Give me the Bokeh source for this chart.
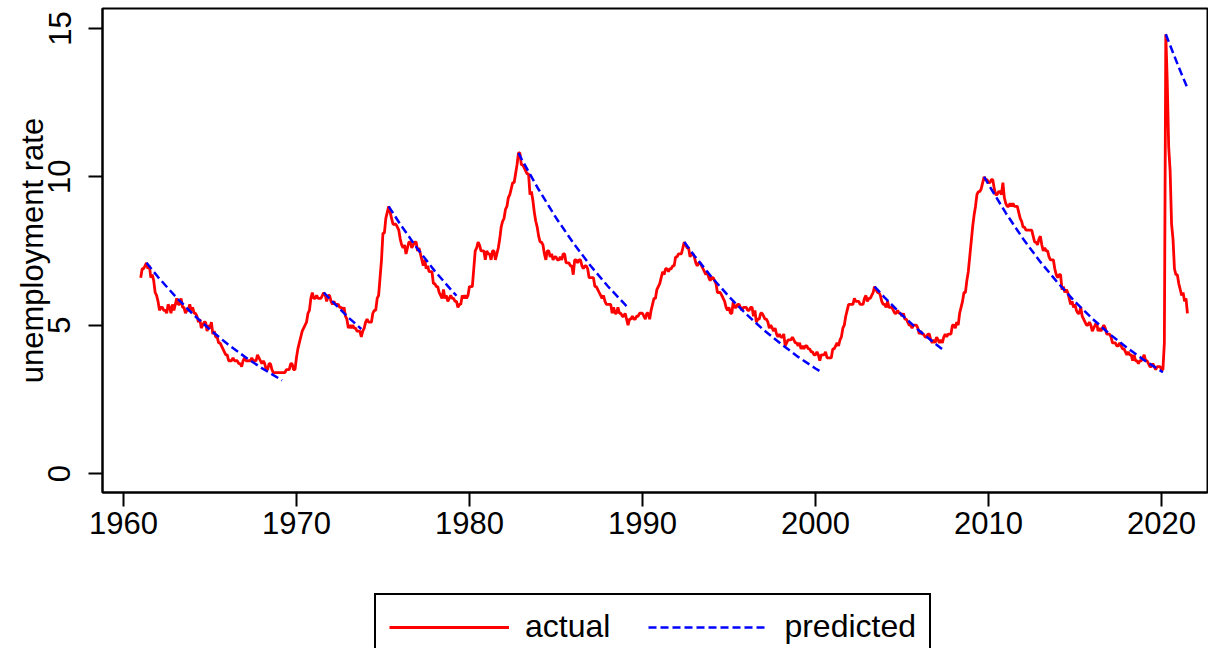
from bokeh.plotting import figure
from bokeh.layouts import column
from bokeh.models import Range1d, FixedTicker, Legend, LegendItem
from bokeh.embed import file_html
from bokeh.resources import INLINE

# ---------------- data ----------------
start_year = 1961  # monthly series starts January 1961
unrate = [
    6.6, 6.9, 6.9, 7.0, 7.1, 6.9, 7.0, 6.6, 6.7, 6.5, 6.1, 6.0,   # 1961
    5.8, 5.5, 5.6, 5.6, 5.5, 5.5, 5.4, 5.7, 5.6, 5.4, 5.7, 5.5,   # 1962
    5.7, 5.9, 5.7, 5.7, 5.9, 5.6, 5.6, 5.4, 5.5, 5.5, 5.7, 5.5,   # 1963
    5.6, 5.4, 5.4, 5.3, 5.1, 5.2, 4.9, 5.0, 5.1, 5.1, 4.8, 5.0,   # 1964
    4.9, 5.1, 4.7, 4.8, 4.6, 4.6, 4.4, 4.4, 4.3, 4.2, 4.1, 4.0,   # 1965
    4.0, 3.8, 3.8, 3.8, 3.9, 3.8, 3.8, 3.8, 3.7, 3.7, 3.6, 3.8,   # 1966
    3.9, 3.8, 3.8, 3.8, 3.8, 3.9, 3.8, 3.8, 3.8, 4.0, 3.9, 3.8,   # 1967
    3.7, 3.8, 3.7, 3.5, 3.5, 3.7, 3.7, 3.5, 3.4, 3.4, 3.4, 3.4,   # 1968
    3.4, 3.4, 3.4, 3.4, 3.4, 3.5, 3.5, 3.5, 3.7, 3.7, 3.5, 3.5,   # 1969
    3.9, 4.2, 4.4, 4.6, 4.8, 4.9, 5.0, 5.1, 5.4, 5.5, 5.9, 6.1,   # 1970
    5.9, 5.9, 6.0, 5.9, 5.9, 5.9, 6.0, 6.1, 6.0, 5.8, 6.0, 6.0,   # 1971
    5.8, 5.7, 5.8, 5.7, 5.7, 5.7, 5.6, 5.6, 5.5, 5.6, 5.3, 5.2,   # 1972
    4.9, 5.0, 4.9, 5.0, 4.9, 4.9, 4.8, 4.8, 4.8, 4.6, 4.8, 4.9,   # 1973
    5.1, 5.2, 5.1, 5.1, 5.1, 5.4, 5.5, 5.5, 5.9, 6.0, 6.6, 7.2,   # 1974
    8.1, 8.1, 8.6, 8.8, 9.0, 8.8, 8.6, 8.4, 8.4, 8.4, 8.3, 8.2,   # 1975
    7.9, 7.7, 7.6, 7.7, 7.4, 7.6, 7.8, 7.8, 7.6, 7.7, 7.8, 7.8,   # 1976
    7.5, 7.6, 7.4, 7.2, 7.0, 7.2, 6.9, 7.0, 6.8, 6.8, 6.8, 6.4,   # 1977
    6.4, 6.3, 6.3, 6.1, 6.0, 5.9, 6.2, 5.9, 6.0, 5.8, 5.9, 6.0,   # 1978
    5.9, 5.9, 5.8, 5.8, 5.6, 5.7, 5.7, 6.0, 5.9, 6.0, 5.9, 6.0,   # 1979
    6.3, 6.3, 6.3, 6.9, 7.5, 7.6, 7.8, 7.7, 7.5, 7.5, 7.5, 7.2,   # 1980
    7.5, 7.4, 7.4, 7.2, 7.5, 7.5, 7.2, 7.4, 7.6, 7.9, 8.3, 8.5,   # 1981
    8.6, 8.9, 9.0, 9.3, 9.4, 9.6, 9.8, 9.8, 10.1, 10.4, 10.8, 10.8,  # 1982
    10.4, 10.4, 10.3, 10.2, 10.1, 10.1, 9.4, 9.5, 9.2, 8.8, 8.5, 8.3,  # 1983
    8.0, 7.8, 7.8, 7.7, 7.4, 7.2, 7.5, 7.5, 7.3, 7.4, 7.2, 7.3,   # 1984
    7.3, 7.2, 7.2, 7.3, 7.2, 7.4, 7.4, 7.1, 7.1, 7.1, 7.0, 7.0,   # 1985
    6.7, 7.2, 7.2, 7.1, 7.2, 7.2, 7.0, 6.9, 7.0, 7.0, 6.9, 6.6,   # 1986
    6.6, 6.6, 6.6, 6.3, 6.3, 6.2, 6.1, 6.0, 5.9, 6.0, 5.8, 5.7,   # 1987
    5.7, 5.7, 5.7, 5.4, 5.6, 5.4, 5.4, 5.6, 5.4, 5.4, 5.3, 5.3,   # 1988
    5.4, 5.2, 5.0, 5.2, 5.2, 5.3, 5.2, 5.2, 5.3, 5.3, 5.4, 5.4,   # 1989
    5.4, 5.3, 5.2, 5.4, 5.4, 5.2, 5.5, 5.7, 5.9, 5.9, 6.2, 6.3,   # 1990
    6.4, 6.6, 6.8, 6.7, 6.9, 6.9, 6.8, 6.9, 6.9, 7.0, 7.0, 7.3,   # 1991
    7.3, 7.4, 7.4, 7.4, 7.6, 7.8, 7.7, 7.6, 7.6, 7.3, 7.4, 7.4,   # 1992
    7.3, 7.1, 7.0, 7.1, 7.1, 7.0, 6.9, 6.8, 6.7, 6.8, 6.6, 6.5,   # 1993
    6.6, 6.6, 6.5, 6.4, 6.1, 6.1, 6.1, 6.0, 5.9, 5.8, 5.6, 5.5,   # 1994
    5.6, 5.4, 5.4, 5.8, 5.6, 5.6, 5.7, 5.7, 5.6, 5.5, 5.6, 5.6,   # 1995
    5.6, 5.5, 5.5, 5.6, 5.6, 5.3, 5.5, 5.1, 5.2, 5.2, 5.4, 5.4,   # 1996
    5.3, 5.2, 5.2, 5.1, 4.9, 5.0, 4.9, 4.8, 4.9, 4.7, 4.6, 4.7,   # 1997
    4.6, 4.6, 4.7, 4.3, 4.4, 4.5, 4.5, 4.5, 4.6, 4.5, 4.4, 4.4,   # 1998
    4.3, 4.4, 4.2, 4.3, 4.2, 4.3, 4.3, 4.2, 4.2, 4.1, 4.1, 4.0,   # 1999
    4.0, 4.1, 4.0, 3.8, 4.0, 4.0, 4.0, 4.1, 3.9, 3.9, 3.9, 3.9,   # 2000
    4.2, 4.2, 4.3, 4.4, 4.3, 4.5, 4.6, 4.9, 5.0, 5.3, 5.5, 5.7,   # 2001
    5.7, 5.7, 5.7, 5.9, 5.8, 5.8, 5.8, 5.7, 5.7, 5.7, 5.9, 6.0,   # 2002
    5.8, 5.9, 5.9, 6.0, 6.1, 6.3, 6.2, 6.1, 6.1, 6.0, 5.8, 5.7,   # 2003
    5.7, 5.6, 5.8, 5.6, 5.6, 5.6, 5.5, 5.4, 5.4, 5.5, 5.4, 5.4,   # 2004
    5.3, 5.4, 5.2, 5.2, 5.1, 5.0, 5.0, 4.9, 5.0, 5.0, 5.0, 4.9,   # 2005
    4.7, 4.8, 4.7, 4.7, 4.6, 4.6, 4.7, 4.7, 4.5, 4.4, 4.5, 4.4,   # 2006
    4.6, 4.5, 4.4, 4.5, 4.4, 4.6, 4.7, 4.6, 4.7, 4.7, 4.7, 5.0,   # 2007
    5.0, 4.9, 5.1, 5.0, 5.4, 5.6, 5.8, 6.1, 6.1, 6.5, 6.8, 7.3,   # 2008
    7.8, 8.3, 8.7, 9.0, 9.4, 9.5, 9.5, 9.6, 9.8, 10.0, 9.9, 9.9,  # 2009
    9.8, 9.8, 9.9, 9.9, 9.6, 9.4, 9.4, 9.5, 9.5, 9.4, 9.8, 9.3,   # 2010
    9.1, 9.0, 9.0, 9.1, 9.0, 9.1, 9.0, 9.0, 9.0, 8.8, 8.6, 8.5,   # 2011
    8.3, 8.3, 8.2, 8.2, 8.2, 8.2, 8.2, 8.0, 7.8, 7.8, 7.7, 7.9,   # 2012
    8.0, 7.7, 7.5, 7.6, 7.5, 7.5, 7.3, 7.2, 7.2, 7.2, 6.9, 6.7,   # 2013
    6.6, 6.7, 6.7, 6.2, 6.3, 6.1, 6.2, 6.1, 5.9, 5.7, 5.8, 5.6,   # 2014
    5.7, 5.5, 5.4, 5.4, 5.6, 5.3, 5.2, 5.1, 5.0, 5.0, 5.1, 5.0,   # 2015
    4.8, 4.9, 5.0, 5.1, 4.8, 4.9, 4.8, 4.9, 5.0, 4.9, 4.7, 4.7,   # 2016
    4.7, 4.6, 4.4, 4.4, 4.4, 4.3, 4.3, 4.4, 4.3, 4.2, 4.2, 4.1,   # 2017
    4.0, 4.1, 4.0, 4.0, 3.8, 4.0, 3.8, 3.8, 3.7, 3.8, 3.8, 3.9,   # 2018
    4.0, 3.8, 3.8, 3.7, 3.6, 3.6, 3.7, 3.6, 3.5, 3.6, 3.6, 3.6,   # 2019
    3.5, 3.5, 4.4, 14.8, 13.2, 11.0, 10.2, 8.4, 7.9, 6.9, 6.7, 6.7,  # 2020
    6.4, 6.2, 6.0, 6.1, 5.8, 5.9, 5.4,                             # 2021
]

# predicted paths after each peak (time in years, rate)
pred_x = [
    [1961.333, 1962, 1963, 1964, 1965, 1966, 1967, 1968, 1969, 1969.167],
    [1971.583, 1972, 1973, 1973.75],
    [1975.333, 1976, 1977, 1978, 1979, 1979.25],
    [1982.833, 1983, 1984, 1985, 1986, 1987, 1988, 1989, 1989.083],
    [1992.417, 1993, 1994, 1995, 1996, 1997, 1998, 1999, 2000, 2000.25],
    [2003.417, 2004, 2005, 2006, 2007, 2007.333],
    [2009.75, 2010, 2011, 2012, 2013, 2014, 2015, 2016, 2017, 2018, 2019, 2020.083],
    [2020.25, 2021, 2021.5],
]
pred_y = [
    [7.1, 6.62, 5.97, 5.38, 4.85, 4.37, 3.94, 3.55, 3.20, 3.14],
    [6.1, 5.84, 5.26, 4.87],
    [9.0, 8.40, 7.57, 6.82, 6.15, 5.99],
    [10.8, 10.61, 9.57, 8.62, 7.77, 7.00, 6.31, 5.69, 5.64],
    [7.8, 7.34, 6.62, 5.96, 5.37, 4.84, 4.37, 3.93, 3.54, 3.45],
    [6.3, 5.93, 5.34, 4.81, 4.34, 4.19],
    [10.0, 9.74, 8.78, 7.91, 7.13, 6.43, 5.79, 5.22, 4.70, 4.24, 3.82, 3.41],
    [14.8, 13.69, 12.99],
]

x_ticks = [1960, 1970, 1980, 1990, 2000, 2010, 2020]
y_ticks = [0, 5, 10, 15]
y_label = "unemployment rate"
legend_labels = ["actual", "predicted"]

# ---------------- plot ----------------
t_actual = [start_year + i / 12 for i in range(len(unrate))]

FONT = "Liberation Sans"
FS = "31px"
RED = "#ff0000"
BLUE = "#0000ff"

p = figure(width=1208, height=560, output_backend="svg", toolbar_location=None,
           x_range=Range1d(1958.79, 2022.66), y_range=Range1d(-0.64, 15.67),
           min_border_left=102, min_border_right=1, min_border_top=8,
           min_border_bottom=68)
p.xgrid.visible = False
p.ygrid.visible = False
p.outline_line_color = "black"
p.outline_line_width = 2
p.background_fill_color = "white"
p.border_fill_color = "white"

p.line(t_actual, unrate, line_color=RED, line_width=2.8)
p.multi_line(pred_x, pred_y, line_color=BLUE, line_width=2.5, line_dash="8 4")

for ax in (p.xaxis[0], p.yaxis[0]):
    ax.major_tick_out = 14
    ax.major_tick_in = 0
    ax.minor_tick_out = 0
    ax.minor_tick_in = 0
    ax.major_tick_line_width = 2
    ax.major_tick_line_color = "black"
    ax.axis_line_width = 2
    ax.axis_line_color = "black"
    ax.major_label_text_font = FONT
    ax.major_label_text_font_size = FS
    ax.major_label_text_color = "black"

p.xaxis.ticker = FixedTicker(ticks=x_ticks)
p.yaxis.ticker = FixedTicker(ticks=y_ticks)
p.xaxis.major_label_standoff = 5
p.yaxis.major_label_orientation = "vertical"
p.yaxis.major_label_standoff = 18
p.yaxis.axis_label = y_label
p.yaxis.axis_label_text_font = FONT
p.yaxis.axis_label_text_font_size = FS
p.yaxis.axis_label_text_font_style = "normal"
p.yaxis.axis_label_text_color = "black"
p.yaxis.axis_label_standoff = -4

# ---- legend strip below the plot ----
leg = figure(width=1208, height=88, output_backend="svg", toolbar_location=None,
             x_range=Range1d(0, 1), y_range=Range1d(0, 1),
             x_axis_location=None, y_axis_location=None,
             min_border_left=0, min_border_right=0, min_border_top=0,
             min_border_bottom=0)
leg.xgrid.visible = False
leg.ygrid.visible = False
leg.outline_line_color = None
leg.background_fill_color = "white"
leg.border_fill_color = "white"
# key glyphs only (their points lie outside the visible range)
g_act = leg.line([-5, -4], [-5, -4], line_color=RED, line_width=2.8)
g_pred = leg.line([-5, -4], [-5, -4], line_color=BLUE, line_width=2.5,
                  line_dash="8 4")

legend = Legend(
    items=[LegendItem(label=legend_labels[0], renderers=[g_act]),
           LegendItem(label=legend_labels[1], renderers=[g_pred])],
    orientation="horizontal", location=(272, -12),
    padding=13, spacing=38, glyph_width=120, label_standoff=16,
    label_text_font=FONT, label_text_font_size="32px", label_text_color="black",
    border_line_color="black", border_line_width=2, border_line_alpha=1.0,
    background_fill_color="white", background_fill_alpha=1.0,
    margin=0,
)
leg.add_layout(legend, "center")

layout = column(p, leg, spacing=0)
open("out.html", "w").write(file_html(layout, INLINE))
